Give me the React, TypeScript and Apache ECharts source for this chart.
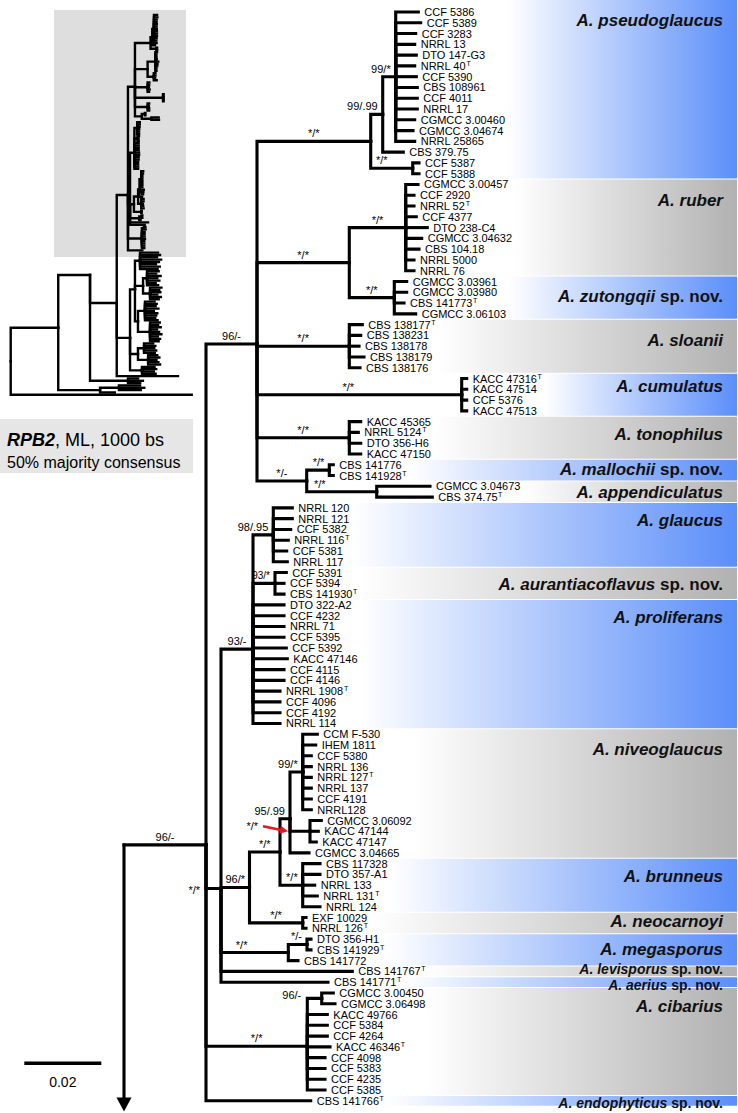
import React, { useEffect, useRef } from 'react';
import * as echarts from 'echarts';

// ======================= DATA =======================
// RPB2 ML tree (rectangular). Leaves: quoted strain names ("^T" = ex-type strain).
// Quoted text after ')' = support (ML bootstrap / Bayesian posterior probability).
// Number after ':' = distance of the node from the root, in drawing units
// (77 units = 0.02 substitutions per site).
const MAIN_TREE = `(
((((('CCF 5386':294.3,'CCF 5389':296.7,'CCF 3283':291.7,'NRRL 13':290.7,'DTO 147-G3':292.3,'NRRL 40^T':290.7,'CCF 5390':292.3,'CBS 108961':293.3,'CCF 4011':293.3,'NRRL 17':293.3,'CGMCC 3.00460':290.7,'CGMCC 3.04674':289,'NRRL 25865':290.7)'99/*':271.7,'CBS 379.75':279.3)'99/.99':258.7,('CCF 5387':295,'CCF 5388':295)'*/*':288.7)'*/*':246.7,
(('CGMCC 3.00457':294,'CCF 2920':290,'NRRL 52^T':290,'CCF 4377':292.3,'DTO 238-C4':303.3,'CGMCC 3.04632':297.7,'CBS 104.18':295,'NRRL 5000':290,'NRRL 76':290)'*/*':281.7,('CGMCC 3.03961':282.7,'CGMCC 3.03980':282.7,'CBS 141773^T':280,'CGMCC 3.06103':291.7)'*/*':270.3)'*/*':225.3,
('CBS 138177^T':238.3,'CBS 138231':236.7,'CBS 138178':235,'CBS 138179':240,'CBS 138176':236)'*/*':225.3,
('KACC 47316^T':342.7,'KACC 47514':342.7,'CCF 5376':342.7,'KACC 47513':342.7)'*/*':337.7,
('KACC 45365':236.7,'NRRL 5124^T':234.3,'DTO 356-H6':236.7,'KACC 47150':236.7)'*/*':225.3,
(('CBS 141776':209.3,'CBS 141928^T':209.3)'*/*':205.3,('CGMCC 3.04673':306,'CBS 374.75^T':308.3)'*/*':252.7)'*/-':182.7
)'96/-':133,
(
(('NRRL 120':168.3,'NRRL 121':168.3,'CCF 5382':166.7,'NRRL 116^T':164.3,'CCF 5381':162.7,'NRRL 117':163.3)'98/.95':149.3,('CCF 5391':162.3,'CCF 5394':160,'CBS 141930^T':160)'93/*':151,'DTO 322-A2':160,'CCF 4232':160,'NRRL 71':160,'CCF 5395':160,'CCF 5392':162.3,'KACC 47146':163.3,'CCF 4115':160,'CCF 4146':160,'NRRL 1908^T':156,'CCF 4096':156,'CCF 4192':156,'NRRL 114':156)'93/-':129,
(((('CCM F-530':193.3,'IHEM 1811':191.7,'CCF 5380':187.3,'NRRL 136':187.3,'NRRL 127^T':187.3,'NRRL 137':187.3,'CCF 4191':187.3,'NRRL128':187.3)'99/*':178.7,('CGMCC 3.06092':197.3,'KACC 47144':194.3,'KACC 47147':192.3)'*/*':186,'CGMCC 3.04665':185)'95/.99':166,('CBS 117328':196,'DTO 357-A1':196,'NRRL 133':190.7,'NRRL 131^T':193.3,'NRRL 124':196)'*/*':178.7)'*/*':156,('EXF 10029':182,'NRRL 126^T':182)'*/*':178.7)'96/*':125.5,
(('DTO 356-H1':187,'CBS 141929^T':187)'*/-':183,'CBS 141772':174)'*/*':164.3,
'CBS 141767^T':228.3,
'CBS 141771^T':204
)'*/*':97,
(('CGMCC 3.00450':209.3,'CGMCC 3.06498':211)'96/-':197.7,'KACC 49766':203.3,'CCF 5384':203.3,'CCF 4264':203.3,'KACC 46346^T':206,'CCF 4098':201,'CCF 5383':201,'CCF 4235':201,'CCF 5385':201)'*/*':183.3,
'CBS 141766^T':186.7
)'96/-':82
):0`;

const CLADE_NAMES = [
  'A. pseudoglaucus', 'A. ruber', 'A. zutongqii sp. nov.', 'A. sloanii', 'A. cumulatus',
  'A. tonophilus', 'A. mallochii sp. nov.', 'A. appendiculatus', 'A. glaucus',
  'A. aurantiacoflavus sp. nov.', 'A. proliferans', 'A. niveoglaucus', 'A. brunneus',
  'A. neocarnoyi', 'A. megasporus', 'A. levisporus sp. nov.', 'A. aerius sp. nov.',
  'A. cibarius', 'A. endophyticus sp. nov.',
];
const CLADE_LEAF_COUNTS = [16, 9, 4, 5, 4, 4, 2, 2, 6, 3, 12, 12, 5, 2, 3, 1, 1, 10, 1];
const CLADE_TINTS = ['blue', 'gray', 'blue', 'gray', 'blue', 'gray', 'blue', 'gray', 'blue', 'gray',
  'blue', 'gray', 'blue', 'gray', 'blue', 'gray', 'blue', 'gray', 'blue'];

const SCALE_BAR_LABEL = '0.02';
const SCALE_BAR_LENGTH = 77;

// Overview of the whole tree (same distance units); '@INGROUP' = the tree above.
const THUMB_TREE = `(
(
(
('@INGROUP':0,
(
(('':1075,'':1090,'':1068,'':1098,'':1082,'':1060,'':1088,'':1072):944,
(('':1080,'':1062,'':1094,'':1070,'':1085,'':1058,'':1076):995,('':1100,'':1084,'':1092,'':1070,'':1096,'':1080):1017):966,
(('':1050,'':1066,'':1058,'':1078,'':1045,'':1070,'':1062,'':1055,'':1072):980,('':1088,'':1076,'':1095,'':1068,'':1083,'':1100,'':1074,'':1090,'':1080):1017):929
):907,
(('':1040,'':1056,'':1048,'':1062,'':1052):973,('':1070,'':1085,'':1064,'':1078,'':1090):1003):929,
('':1050,'':1062,'':1045,'':1058):958
):871,
'l1':1221):774,
('g1':930,'g2':965,'g3':945):856
):579,
(('e1':944,'e2':975,'e3':950):790,'e4':760):652
):347,
'out':1321
):0`;

const INFO_TITLE = 'RPB2';
const INFO_REST = ', ML, 1000 bs';
const INFO_LINE2 = '50% majority consensus';

// ======================= LAYOUT / STYLE =======================
const W = 738;
const H = 1113;
const FONT = 'Arial, "Liberation Sans", Helvetica, sans-serif';
const ROW_PX = 10.78;
const FIRST_ROW_Y = 12;
const ROOT_X = 124;
const MAIN_Y_MIN = -FIRST_ROW_Y / ROW_PX;
const MAIN_Y_MAX = MAIN_Y_MIN + H / ROW_PX;
const OUTGROUP_ARROW_ROW = 102;
const LEAF_FS = 11;
const SUP_FS = 7;
const SUPPORT_FS = 11;
const CLADE_FS = 17;
const CLADE_FS_SMALL = 14;
const LEAF_GAP = 6;
const BRANCH_W = 3.1;
const BLUE_END = '#5b8ef9';
const GRAY_END = '#b1b1b1';
// fine vertical placement of clade names (in rows), index-aligned with CLADE_NAMES
const CLADE_LABEL_NUDGE = [-0.4, 0.38, 0.25, 0.35, -0.39, 0, -0.1, 0.1, 0, 0.1, 0, 0.25, 0, -0.1, 0, -0.2, 0.25, 0.15, 0.2];

const THUMB_PX_PER_UNIT = 0.137;
const THUMB_LEFT_PX = 10.7;
const THUMB_ROW_PX = 2.33;
const THUMB_FIRST_ROW_Y = 15;
const THUMB_W = 200;
const THUMB_H = 420;
const THUMB_X_MIN = -THUMB_LEFT_PX / THUMB_PX_PER_UNIT;
const THUMB_X_MAX = THUMB_X_MIN + THUMB_W / THUMB_PX_PER_UNIT;
const THUMB_Y_MIN = -THUMB_FIRST_ROW_Y / THUMB_ROW_PX;
const THUMB_Y_MAX = THUMB_Y_MIN + THUMB_H / THUMB_ROW_PX;

const SCALE_AT = { depth: -99.7, row: 97.52 };

// nodes drawn at a row different from the mean of their children (as in the figure)
const ROW_FIX: Record<string, number> = {
  'NRRL 120|NRRL 114': 59.1,
  'CCF 5386|g3': 111.6,
  'CCF 5386|e4': 134.2,
};

const SUPPORT_LAYOUT: Record<string, { dx?: number; dy?: number; mode?: string; fs?: number }> = {
  'CGMCC 3.04673|CBS 374.75^T': { dx: -22 },
  'DTO 356-H1|CBS 141772': { dx: -13 },
  'KACC 47316^T|KACC 47513': { dx: -11 },
  'CCF 5387|CCF 5388': { dx: -10 },
  'NRRL 120|CBS 141771^T': { mode: 'beside', dy: 1 },
  'CGMCC 3.00450|CGMCC 3.06498': { mode: 'beside', dy: -3 },
  'CGMCC 3.06092|KACC 47147': { mode: 'arrow' },
  'CCF 5391|CBS 141930^T': { fs: 10 },
};

// ======================= TREE HELPERS =======================
type TNode = {
  name: string; support: string; depth: number; children: TNode[];
  row: number; parent: TNode | null; key: string;
};

function parseTree(src: string): TNode {
  let i = 0;
  const ws = () => { while (i < src.length && /\s/.test(src[i])) i++; };
  const quoted = (): string => {
    ws();
    if (src[i] !== "'") return '';
    const j = src.indexOf("'", i + 1);
    const t = src.slice(i + 1, j);
    i = j + 1;
    return t;
  };
  const num = (): number => {
    ws();
    if (src[i] !== ':') return 0;
    i++;
    ws();
    const m = /^-?\d+(\.\d+)?/.exec(src.slice(i));
    if (!m) return 0;
    i += m[0].length;
    return parseFloat(m[0]);
  };
  const node = (): TNode => {
    ws();
    const n: TNode = { name: '', support: '', depth: 0, children: [], row: 0, parent: null, key: '' };
    if (src[i] === '(') {
      i++;
      n.children.push(node());
      ws();
      while (src[i] === ',') { i++; n.children.push(node()); ws(); }
      i++;
      n.support = quoted();
    } else {
      n.name = quoted();
    }
    n.depth = num();
    return n;
  };
  return node();
}

function shiftTree(n: TNode, off: number): TNode {
  n.depth += off;
  n.children.forEach((c) => shiftTree(c, off));
  return n;
}

function graft(n: TNode, donor: TNode) {
  n.children = n.children.map((c) => {
    if (c.name === '@INGROUP') return shiftTree(donor, n.depth);
    graft(c, donor);
    return c;
  });
}

function layoutTree(root: TNode) {
  const leaves: TNode[] = [];
  const nodes: TNode[] = [];
  const visit = (n: TNode, p: TNode | null) => {
    n.parent = p;
    nodes.push(n);
    if (!n.children.length) { n.row = leaves.length; leaves.push(n); n.key = n.name; return; }
    n.children.forEach((c) => visit(c, n));
    let f = n.children[0];
    while (f.children.length) f = f.children[0];
    let l = n.children[n.children.length - 1];
    while (l.children.length) l = l.children[l.children.length - 1];
    n.key = f.name + '|' + l.name;
    const fix = ROW_FIX[n.key];
    n.row = fix !== undefined ? fix : n.children.reduce((s, c) => s + c.row, 0) / n.children.length;
  };
  visit(root, null);
  return { leaves, nodes };
}

function edgesOf(nodes: TNode[]) {
  return nodes.filter((n) => n.parent).map((n) => [n.parent!.depth, n.parent!.row, n.depth, n.row]);
}

let measureCtx: CanvasRenderingContext2D | null = null;
function textWidth(t: string, size: number): number {
  if (!measureCtx) measureCtx = document.createElement('canvas').getContext('2d');
  if (!measureCtx) return t.length * size * 0.55;
  measureCtx.font = `${size}px ${FONT}`;
  return measureCtx.measureText(t).width;
}

function leafParts(name: string) {
  const [base, typ] = name.split('^');
  return { base, typ: typ || '' };
}

function leafWidth(name: string) {
  const { base, typ } = leafParts(name);
  return textWidth(base, LEAF_FS) + (typ ? textWidth(typ, SUP_FS) + 0.5 : 0);
}

function cladeRich(name: string) {
  const k = name.indexOf(' sp. nov.');
  if (k < 0) return `{i|${name}}`;
  return `{i|${name.slice(0, k)}}{b|${name.slice(k)}}`;
}

// ======================= OPTION =======================
function buildOption() {
  const main = parseTree(MAIN_TREE);
  const { leaves, nodes } = layoutTree(main);
  const mainEdges = edgesOf(nodes);
  const supportNodes = nodes.filter((n) => n.parent && n.children.length && n.support);

  const thumb = parseTree(THUMB_TREE);
  graft(thumb, parseTree(MAIN_TREE).children[0]);
  const thumbLayout = layoutTree(thumb);
  const thumbEdges = edgesOf(thumbLayout.nodes);

  const cladeStart: number[] = [];
  CLADE_LEAF_COUNTS.reduce((acc, c) => { cladeStart.push(acc); return acc + c; }, 0);

  const branchRender = (lw: number) => (params: any, api: any) => {
    const a = api.coord([api.value(0), api.value(1)]);
    const b = api.coord([api.value(0), api.value(3)]);
    const c = api.coord([api.value(2), api.value(3)]);
    return {
      type: 'polyline',
      shape: { points: [a, b, c] },
      style: { stroke: '#000', lineWidth: lw, fill: 'none', lineJoin: 'miter', lineCap: 'square' },
    };
  };

  const gradient = (tint: string) => new echarts.graphic.LinearGradient(0, 0, 1, 0, [
    { offset: 0, color: '#ffffff' },
    { offset: 1, color: tint === 'blue' ? BLUE_END : GRAY_END },
  ]);

  const plain = (text: string, size: number, extra: any = {}) => ({
    text, fontSize: size, fontFamily: FONT, fill: '#000', ...extra,
  });

  const series: any[] = [
    // clade bands
    {
      type: 'custom', coordinateSystem: 'cartesian2d', xAxisIndex: 0, yAxisIndex: 0, z: 1, silent: true,
      data: CLADE_NAMES.map((_, i) => [i, cladeStart[i]]),
      renderItem: (params: any, api: any) => {
        const ci = params.dataIndex;
        const first = cladeStart[ci];
        const last = first + CLADE_LEAF_COUNTS[ci] - 1;
        const cs = params.coordSys;
        let left = 0;
        for (let r = first; r <= last; r++) {
          const lf = leaves[r];
          left = Math.max(left, api.coord([lf.depth, lf.row])[0] + LEAF_GAP + leafWidth(lf.name));
        }
        left += 2;
        const right = cs.x + cs.width - 1;
        const top = ci === 0 ? cs.y : api.coord([0, first - 0.5])[1] + 0.5;
        const bottom = api.coord([0, last + 0.5])[1] - 0.5;
        return {
          type: 'rect',
          shape: { x: left, y: top, width: right - left, height: bottom - top },
          style: { fill: gradient(CLADE_TINTS[ci]) },
        };
      },
    },
    // thumbnail tree
    {
      type: 'custom', coordinateSystem: 'cartesian2d', xAxisIndex: 1, yAxisIndex: 1, z: 3, silent: true,
      data: thumbEdges, renderItem: branchRender(2.4),
    },
    // main tree branches
    {
      type: 'custom', coordinateSystem: 'cartesian2d', xAxisIndex: 0, yAxisIndex: 0, z: 3, silent: true,
      data: mainEdges, renderItem: branchRender(BRANCH_W),
    },
    // root with arrow towards the outgroup
    {
      type: 'custom', coordinateSystem: 'cartesian2d', xAxisIndex: 0, yAxisIndex: 0, z: 3, silent: true,
      data: [[main.depth, main.row, OUTGROUP_ARROW_ROW]],
      renderItem: (params: any, api: any) => {
        const a = api.coord([api.value(0), api.value(1)]);
        const t = api.coord([api.value(0), api.value(2)]);
        return {
          type: 'group',
          children: [
            { type: 'line', shape: { x1: a[0], y1: a[1] - 1.5, x2: t[0], y2: t[1] - 12 }, style: { stroke: '#000', lineWidth: BRANCH_W } },
            { type: 'polygon', shape: { points: [[t[0] - 7.5, t[1] - 14], [t[0] + 7.5, t[1] - 14], [t[0], t[1]]] }, style: { fill: '#000' } },
          ],
        };
      },
    },
    // leaf labels (strain name + superscript T for ex-type)
    {
      type: 'custom', coordinateSystem: 'cartesian2d', xAxisIndex: 0, yAxisIndex: 0, z: 4, silent: true,
      data: leaves.map((l) => [l.depth, l.row]),
      renderItem: (params: any, api: any) => {
        const lf = leaves[params.dataIndex];
        const p = api.coord([lf.depth, lf.row]);
        const { base, typ } = leafParts(lf.name);
        const x = p[0] + LEAF_GAP;
        if (!typ) {
          return { type: 'text', x, y: p[1], style: plain(base, LEAF_FS, { align: 'left', verticalAlign: 'middle' }) };
        }
        return {
          type: 'group',
          children: [
            { type: 'text', x, y: p[1], style: plain(base, LEAF_FS, { align: 'left', verticalAlign: 'middle' }) },
            { type: 'text', x: x + textWidth(base, LEAF_FS) + 0.5, y: p[1] - 2.5, style: plain(typ, SUP_FS, { align: 'left', verticalAlign: 'middle' }) },
          ],
        };
      },
    },
    // support values
    {
      type: 'custom', coordinateSystem: 'cartesian2d', xAxisIndex: 0, yAxisIndex: 0, z: 4, silent: true,
      data: supportNodes.map((n) => [n.depth, n.row]),
      renderItem: (params: any, api: any) => {
        const n = supportNodes[params.dataIndex];
        const p = n.parent!;
        const [nx, ny] = api.coord([n.depth, n.row]);
        const px = api.coord([p.depth, n.row])[0];
        const spec = SUPPORT_LAYOUT[n.key] || {};
        const fs = spec.fs || SUPPORT_FS;
        if (spec.mode === 'beside') {
          return { type: 'text', x: px - 6, y: ny + (spec.dy || 0), style: plain(n.support, fs, { align: 'right', verticalAlign: 'middle' }) };
        }
        if (spec.mode === 'arrow') {
          const tail = [px - 27, ny - 5];
          const tip = [px - 2, ny];
          const dx = tip[0] - tail[0];
          const dy = tip[1] - tail[1];
          const len = Math.sqrt(dx * dx + dy * dy);
          const ux = dx / len;
          const uy = dy / len;
          const bx = tip[0] - ux * 8;
          const by = tip[1] - uy * 8;
          return {
            type: 'group',
            children: [
              { type: 'text', x: px - 32, y: ny - 5, style: plain(n.support, fs, { align: 'right', verticalAlign: 'middle' }) },
              { type: 'line', shape: { x1: tail[0], y1: tail[1], x2: bx + ux, y2: by + uy }, style: { stroke: '#e8161e', lineWidth: 2.6 } },
              { type: 'polygon', shape: { points: [[tip[0], tip[1]], [bx - uy * 4, by + ux * 4], [bx + uy * 4, by - ux * 4]] }, style: { fill: '#e8161e' } },
            ],
          };
        }
        if (nx - px < 25) {
          return { type: 'text', x: nx - 5, y: ny - 2.5, style: plain(n.support, fs, { align: 'right', verticalAlign: 'bottom' }) };
        }
        return { type: 'text', x: (nx + px) / 2 + (spec.dx || 0), y: ny - 2.5, style: plain(n.support, fs, { align: 'center', verticalAlign: 'bottom' }) };
      },
    },
    // clade names
    {
      type: 'custom', coordinateSystem: 'cartesian2d', xAxisIndex: 0, yAxisIndex: 0, z: 4, silent: true,
      data: CLADE_NAMES.map((_, i) => [i, cladeStart[i]]),
      renderItem: (params: any, api: any) => {
        const ci = params.dataIndex;
        const first = cladeStart[ci];
        const last = first + CLADE_LEAF_COUNTS[ci] - 1;
        const row = Math.min((first + last) / 2, first + 1.15) + CLADE_LABEL_NUDGE[ci];
        const y = api.coord([0, row])[1];
        const cs = params.coordSys;
        const fs = CLADE_LEAF_COUNTS[ci] === 1 ? CLADE_FS_SMALL : CLADE_FS;
        return {
          type: 'text', x: cs.x + cs.width - 15, y,
          style: {
            text: cladeRich(CLADE_NAMES[ci]), align: 'right', verticalAlign: 'middle',
            rich: {
              i: { fontSize: fs, fontFamily: FONT, fontWeight: 'bold', fontStyle: 'italic', fill: '#111' },
              b: { fontSize: fs, fontFamily: FONT, fontWeight: 'bold', fill: '#111' },
            },
          },
        };
      },
    },
    // scale bar
    {
      type: 'custom', coordinateSystem: 'cartesian2d', xAxisIndex: 0, yAxisIndex: 0, z: 4, silent: true,
      data: [[SCALE_AT.depth, SCALE_AT.row]],
      renderItem: (params: any, api: any) => {
        const a = api.coord([api.value(0), api.value(1)]);
        const b = api.coord([api.value(0) + SCALE_BAR_LENGTH, api.value(1)]);
        return {
          type: 'group',
          children: [
            { type: 'line', shape: { x1: a[0], y1: a[1], x2: b[0], y2: b[1] }, style: { stroke: '#000', lineWidth: 3.5 } },
            { type: 'text', x: (a[0] + b[0]) / 2, y: a[1] + 18.5, style: plain(SCALE_BAR_LABEL, 14, { align: 'center', verticalAlign: 'middle' }) },
          ],
        };
      },
    },
  ];

  return {
    animation: false,
    backgroundColor: '#ffffff',
    textStyle: { fontFamily: FONT },
    grid: [
      { left: 0, top: 0, width: W, height: H, containLabel: false },
      { left: 0, top: 0, width: THUMB_W, height: THUMB_H, containLabel: false },
    ],
    xAxis: [
      { type: 'value', gridIndex: 0, min: -ROOT_X, max: W - ROOT_X, show: false },
      { type: 'value', gridIndex: 1, min: THUMB_X_MIN, max: THUMB_X_MAX, show: false },
    ],
    yAxis: [
      { type: 'value', gridIndex: 0, inverse: true, min: MAIN_Y_MIN, max: MAIN_Y_MAX, show: false },
      { type: 'value', gridIndex: 1, inverse: true, min: THUMB_Y_MIN, max: THUMB_Y_MAX, show: false },
    ],
    graphic: [
      { type: 'rect', z: 0, silent: true, shape: { x: 54, y: 10, width: 132, height: 247 }, style: { fill: '#dedede' } },
      { type: 'rect', z: 0, silent: true, shape: { x: 0, y: 419, width: 193, height: 54 }, style: { fill: '#e6e6e6' } },
      {
        type: 'text', z: 1, silent: true, x: 7, y: 440,
        style: {
          text: `{t|${INFO_TITLE}}{r|${INFO_REST}}`, verticalAlign: 'middle',
          rich: {
            t: { fontSize: 18, fontFamily: FONT, fontWeight: 'bold', fontStyle: 'italic', fill: '#000' },
            r: { fontSize: 18, fontFamily: FONT, fill: '#000' },
          },
        },
      },
      {
        type: 'text', z: 1, silent: true, x: 7, y: 462,
        style: { text: INFO_LINE2, fontSize: 16, fontFamily: FONT, fill: '#000', verticalAlign: 'middle' },
      },
    ],
    series,
  };
}

export default function App() {
  const ref = useRef<HTMLDivElement>(null);
  useEffect(() => {
    if (!ref.current) return;
    const chart = echarts.init(ref.current, null, { renderer: 'svg', width: W, height: H });
    chart.setOption(buildOption() as any);
    return () => chart.dispose();
  }, []);
  return (
    <div
      ref={ref}
      style={{ position: 'absolute', left: 0, top: 0, width: W, height: H, background: '#fff' }}
    />
  );
}
